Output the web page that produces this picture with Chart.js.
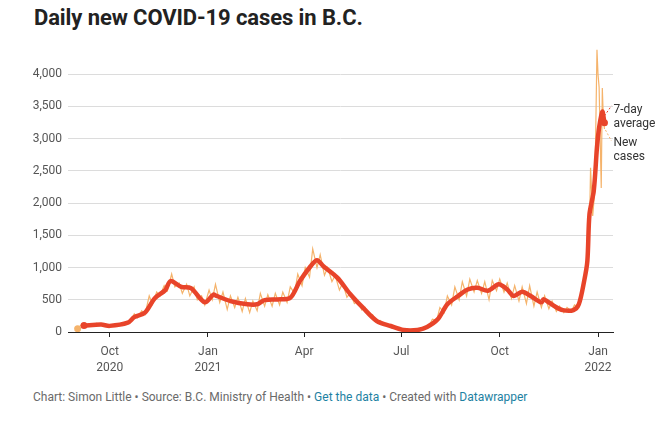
<!DOCTYPE html>
<html>
<head>
<meta charset="utf-8">
<script src="https://cdn.jsdelivr.net/npm/chart.js@4"></script>
<style>
  body { margin: 0; background: #fff; font-family: Roboto, "Noto Sans", sans-serif; }
  #wrap { position: relative; width: 672px; height: 423px; overflow: hidden; }
  h1 { position: absolute; left: 34px; top: 5px; margin: 0; font-size: 22px; font-weight: 700; color: #222; letter-spacing: -0.1px; }
  #box { position: absolute; left: 0; top: 32px; width: 672px; height: 354px; }
  #foot { position: absolute; left: 33px; top: 390px; font-size: 12px; color: #6a6a6a; white-space: nowrap; }
  #foot a { color: #1d81a2; text-decoration: none; }
</style>
</head>
<body>
<div id="wrap">
  <h1>Daily new COVID-19 cases in B.C.</h1>
  <div id="box"><canvas id="casesChart" width="672" height="354"></canvas></div>
  <div id="foot">Chart: Simon Little • Source: B.C. Ministry of Health • <a>Get the data</a> • Created with <a>Datawrapper</a></div>
</div>
<script>
// Días contados desde el 1 de septiembre de 2020
const tickDays = [30, 122, 212, 303, 395, 487];
const tickLabels = [['Oct', '2020'], ['Jan', '2021'], ['Apr'], ['Jul'], ['Oct'], ['Jan', '2022']];
const yTicks = [0, 500, 1000, 1500, 2000, 2500, 3000, 3500, 4000];

// Casos nuevos diarios
const caseDays = [0, 4, 7, 11, 14, 18, 21, 25, 28, 32, 35, 39, 42, 46, 49, 53, 56, 60, 63, 67,
  70, 74, 77, 81, 84, 88, 91, 95, 98, 102, 105, 109, 112, 116, 119, 123, 126, 129, 133, 136,
  140, 143, 147, 150, 154, 157, 161, 164, 168, 171, 175, 178, 182, 185, 189, 192, 196, 199, 203, 206,
  210, 213, 217, 220, 224, 227, 231, 234, 238, 241, 245, 248, 252, 255, 259, 262, 266, 269, 273, 276,
  280, 283, 287, 290, 294, 297, 301, 304, 308, 311, 315, 318, 322, 325, 329, 332, 336, 339, 343, 346,
  350, 353, 357, 360, 364, 367, 371, 374, 378, 381, 385, 388, 392, 395, 399, 402, 406, 409, 413, 416,
  420, 423, 427, 430, 434, 437, 441, 444, 448, 451, 455, 458, 462, 465, 469, 472, 475, 477, 479, 480,
  482, 484, 486, 487, 488, 489, 490, 491, 492, 493];
const newCases = [50, 125, 95, 130, 100, 135, 105, 120, 85, 115, 90, 130, 100, 165, 150, 280, 220, 330, 270, 560,
  430, 620, 560, 720, 640, 900, 700, 760, 600, 740, 560, 700, 500, 560, 420, 650, 500, 740, 460, 620,
  350, 560, 380, 540, 320, 520, 300, 480, 330, 600, 400, 580, 400, 600, 420, 620, 460, 700, 600, 900,
  720, 1000, 850, 1290, 1000, 1200, 880, 1000, 780, 880, 650, 760, 540, 600, 440, 480, 340, 380, 250, 270,
  160, 180, 110, 120, 70, 80, 30, 45, 20, 40, 25, 40, 30, 80, 100, 200, 180, 380, 300, 560,
  420, 700, 500, 780, 560, 820, 620, 800, 600, 780, 500, 800, 640, 820, 620, 760, 520, 720, 480, 700,
  440, 720, 400, 620, 380, 560, 360, 480, 320, 400, 300, 380, 320, 420, 380, 620, 800, 1200, 1600, 2550,
  1800, 2200, 4380, 3995, 3800, 3000, 2236, 3787, 3300, 3150];

// Promedio de 7 días
const avgDays = [6, 22, 30, 47, 53, 63, 72, 82, 87, 97, 106, 119, 127, 130, 143, 159, 168, 175, 187, 199,
  208, 218, 224, 230, 243, 255, 267, 280, 293, 305, 318, 327, 337, 346, 356, 365, 374, 384, 394, 402,
  408, 416, 424, 434, 436, 446, 454, 464, 469, 474, 477, 479, 483, 486, 488, 491, 493];
const avgCases = [100, 115, 95, 145, 230, 300, 520, 650, 790, 700, 680, 460, 580, 560, 480, 430, 430, 495, 505, 530,
  790, 1020, 1115, 1020, 843, 590, 377, 170, 93, 31, 31, 77, 196, 430, 558, 660, 686, 640, 740, 660,
  560, 625, 558, 460, 507, 403, 340, 340, 430, 790, 1100, 1830, 2190, 2860, 3170, 3420, 3245];

const toPoints = (xs, ys) => xs.map((x, i) => ({ x: x, y: ys[i] }));

// Etiquetas a la derecha con líneas guía punteadas
const endLabels = {
  id: 'endLabels',
  afterDatasetsDraw(chart) {
    const { ctx, scales: { x, y } } = chart;
    const lastAvg = avgCases[avgCases.length - 1];
    const lastCase = newCases[newCases.length - 1];
    const ax = x.getPixelForValue(avgDays[avgDays.length - 1]);
    const ay = y.getPixelForValue(lastAvg);
    const cx = x.getPixelForValue(caseDays[caseDays.length - 1]);
    const cy = y.getPixelForValue(lastCase);
    ctx.save();
    ctx.setLineDash([2, 2]);
    ctx.lineWidth = 1;
    ctx.strokeStyle = '#e8442a';
    ctx.beginPath(); ctx.moveTo(ax, ay - 7); ctx.lineTo(ax + 7, ay - 17); ctx.stroke();
    ctx.strokeStyle = '#f5b36b';
    ctx.beginPath(); ctx.moveTo(cx + 1, cy + 1); ctx.lineTo(cx + 7, cy + 12); ctx.stroke();
    ctx.setLineDash([]);
    ctx.fillStyle = '#333';
    ctx.font = '12px Roboto';
    ctx.textBaseline = 'middle';
    ctx.fillText('7-day', ax + 9, ay - 13);
    ctx.fillText('average', ax + 9, ay + 1);
    ctx.fillText('New', ax + 9, ay + 20);
    ctx.fillText('cases', ax + 9, ay + 34);
    ctx.restore();
  }
};

// Punto en el inicio (y final) de cada línea
const endDot = (n, both) => (c) => (c.dataIndex === 0 || (both && c.dataIndex === n - 1)) ? 3.5 : 0;

const ctx = document.getElementById('casesChart').getContext('2d');
new Chart(ctx, {
  type: 'line',
  data: {
    datasets: [{
      label: 'New cases',
      data: toPoints(caseDays, newCases),
      borderColor: '#f5b36b',
      backgroundColor: '#f5b36b',
      borderWidth: 1.2,
      pointRadius: endDot(caseDays.length, false),
      pointBorderWidth: 0,
      tension: 0,
      order: 2
    }, {
      label: '7-day average',
      data: toPoints(avgDays, avgCases),
      borderColor: '#e8442a',
      backgroundColor: '#e8442a',
      borderWidth: 4.5,
      borderCapStyle: 'round',
      borderJoinStyle: 'round',
      pointRadius: endDot(avgDays.length, true),
      pointBorderWidth: 0,
      tension: 0.3,
      order: 1
    }]
  },
  options: {
    responsive: false,
    animation: false,
    events: [],
    layout: { padding: { left: 0, right: 59, top: 4, bottom: 0 } },
    plugins: { legend: { display: false }, tooltip: { enabled: false } },
    scales: {
      x: {
        type: 'linear',
        min: -9,
        max: 501,
        afterBuildTicks: (s) => { s.ticks = tickDays.map(v => ({ value: v })); },
        afterFit: (s) => { s.height = 54; },
        ticks: {
          autoSkip: false,
          maxRotation: 0,
          color: '#555',
          font: { family: 'Roboto', size: 12, lineHeight: 1.35 },
          padding: 7,
          callback: (v) => tickLabels[tickDays.indexOf(v)]
        },
        grid: { drawOnChartArea: false, drawTicks: true, tickLength: 5, color: '#222' },
        border: { display: true, color: '#222', width: 1 }
      },
      y: {
        min: 0,
        max: 4450,
        afterBuildTicks: (s) => { s.ticks = yTicks.map(v => ({ value: v })); },
        afterFit: (s) => { s.width = 68; },
        ticks: {
          color: '#555',
          font: { family: 'Roboto', size: 12 },
          padding: 6,
          callback: (v) => v.toLocaleString('en-US')
        },
        grid: { color: '#dcdcdc', drawTicks: false },
        border: { display: false }
      }
    }
  },
  plugins: [endLabels]
});
</script>
</body>
</html>
